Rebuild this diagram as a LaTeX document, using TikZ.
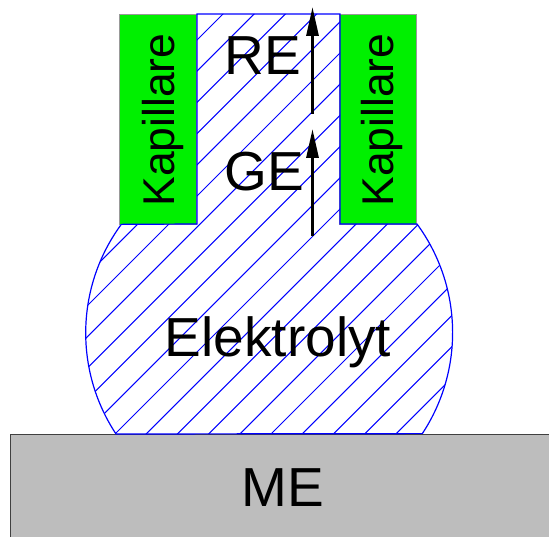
\documentclass[tikz,border=0pt]{standalone}
\usepackage{fontspec}
\setmainfont{Liberation Sans}
\usetikzlibrary{arrows.meta}
\newcommand{\elektrolytrand}{(197,523) -- (340,523) -- (340,313) -- (417,313)
 arc[start angle=36.3,end angle=-33.4,radius=183.5] -- (116,103)
 arc[start angle=213.4,end angle=143.7,radius=183.5] -- (197,313) -- cycle}
\begin{document}
\begin{tikzpicture}[x=1pt,y=1pt,
 kap/.style={draw=black!40,line width=0.8pt,fill=green!94!black,rotate=90,inner sep=0pt,minimum width=210pt,minimum height=77pt},
 me/.style={draw=black!75,line width=0.8pt,fill=black!26,inner sep=0pt,minimum width=539pt,minimum height=103pt},
 txt/.style={font=\fontsize{55}{55}\selectfont,inner sep=0pt,anchor=base},
 kaptxt/.style={font=\fontsize{44.5}{44.5}\selectfont,inner sep=0pt,rotate=90,anchor=base},
 pfeil/.style={-{Triangle[length=29pt,width=12pt]},line width=3pt}]
\useasboundingbox (0,0) rectangle (549,537);
\node[kap] (kL) at (158.3,418) {};
\node[kap] (kR) at (378.3,418) {};
\node[me] (mE) at (279.5,51.5) {};
\begin{scope}
\clip \elektrolytrand;
\foreach \k in {-11,...,10} {
 \pgfmathsetmacro{\d}{12+31.2*\k}
 \draw[blue,line width=1pt] (\d,0) -- (\d+600,600);
}
\end{scope}
\draw[blue,line width=1.2pt] \elektrolytrand;
\node[kaptxt] (tL) at (174.5,417) {Kapillare};
\node[kaptxt] (tR) at (393.5,417) {Kapillare};
\node[txt] (tRE) at (263,462) {RE};
\node[txt] (tGE) at (264,346) {GE};
\node[txt] (tEl) at (278,180) {Elektrolyt};
\node[txt] (tME) at (283,30) {ME};
\coordinate (ge0) at (312.5,301);
\coordinate (ge1) at (312.5,408);
\coordinate (re0) at (312.5,423);
\coordinate (re1) at (312.5,530);
\draw[pfeil] (ge0) -- (ge1);
\draw[pfeil] (re0) -- (re1);
\end{tikzpicture}
\end{document}
